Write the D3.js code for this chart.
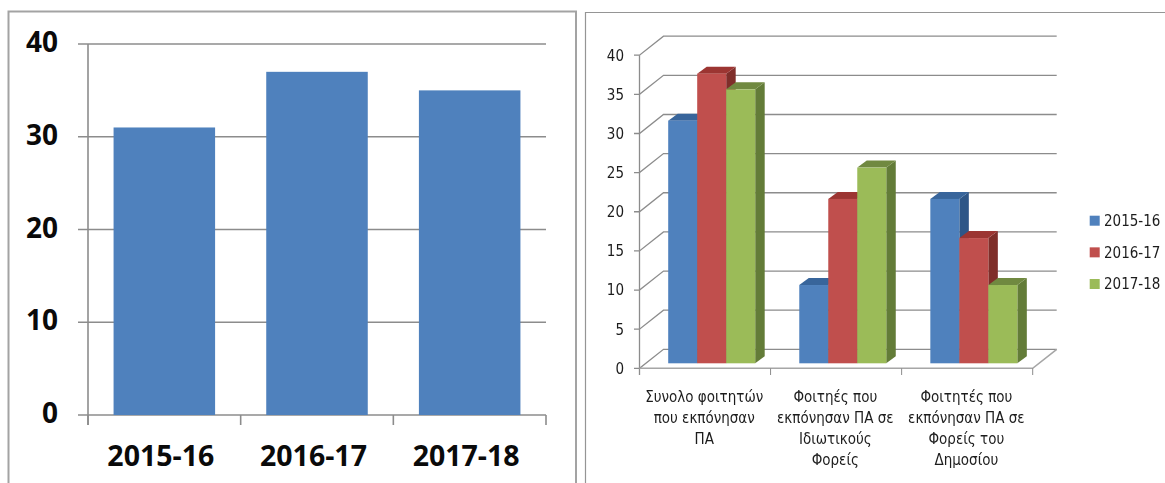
<!DOCTYPE html>
<html><head><meta charset="utf-8">
<script src="https://cdnjs.cloudflare.com/ajax/libs/d3/7.8.5/d3.min.js"></script>
<style>html,body{margin:0;padding:0;background:#fff;overflow:hidden}svg{display:block}
.cond{font-family:'DejaVu Sans Condensed','DejaVu Sans',sans-serif;font-stretch:condensed;font-size:15px;fill:#1c1c1c}</style>
</head><body>
<svg id="c" width="1165" height="483"></svg>
<script>
const years = ["2015-16", "2016-17", "2017-18"];
const leftValues = [31, 37, 35];
const leftTicks = [0, 10, 20, 30, 40];
const categories = ["total", "private", "public"];
const categoryLabels = [
  ["Συνολο φοιτητών", "που εκπόνησαν", "ΠΑ"],
  ["Φοιτηές που", "εκπόνησαν ΠΑ σε", "Ιδιωτικούς", "Φορείς"],
  ["Φοιτητές που", "εκπόνησαν ΠΑ σε", "Φορείς του", "Δημοσίου"]
];
const values2015 = [31, 10, 21];
const values2016 = [37, 21, 16];
const values2017 = [35, 25, 10];
const rightTicks = [0, 5, 10, 15, 20, 25, 30, 35, 40];
const frontColors = ["#4f81bd", "#c0504d", "#9bbb59"];
const topColors = ["#37659b", "#9c3633", "#70893f"];
const sideColors = ["#2f5687", "#7f2d2b", "#647c39"];
const gridColor = "#8c8c8c";

const svg = d3.select("#c");
const defs = svg.append("defs");
defs.append("filter").attr("id", "soft").attr("x", "-5%").attr("y", "-5%").attr("width", "110%").attr("height", "110%")
  .append("feGaussianBlur").attr("stdDeviation", 0.35);

// frames
svg.append("path").attr("d", "M8.5,483V11.5H576V483").attr("fill", "none").attr("stroke", "#a3a3a3").attr("stroke-width", 2);
svg.append("path").attr("d", "M585.5,483V12.5H1165").attr("fill", "none").attr("stroke", "#959595").attr("stroke-width", 1.2);

// left chart
const lx = d3.scaleBand().domain(years).range([88, 546]).paddingInner(0.335).paddingOuter(0.1675);
const lxTicks = d3.scaleLinear().domain([0, 3]).range([88, 546]);
const ly = d3.scaleLinear().domain([0, 40]).range([415, 44]);
const left = svg.append("g");
const lFont = "'Open Sans', sans-serif";
left.selectAll("line.g").data(leftTicks).join("line").attr("class", "g")
  .attr("x1", 78).attr("x2", 546).attr("y1", d => ly(d)).attr("y2", d => ly(d))
  .attr("stroke", gridColor).attr("stroke-width", 1.6);
left.append("line").attr("x1", 88).attr("x2", 88).attr("y1", ly(40)).attr("y2", 425).attr("stroke", gridColor).attr("stroke-width", 1.6);
left.selectAll("line.t").data(d3.range(0, 4)).join("line").attr("class", "t")
  .attr("x1", d => lxTicks(d)).attr("x2", d => lxTicks(d)).attr("y1", 415).attr("y2", 425)
  .attr("stroke", gridColor).attr("stroke-width", 1.6);
left.selectAll("rect").data(leftValues).join("rect")
  .attr("x", (d, i) => lx(years[i])).attr("width", lx.bandwidth())
  .attr("y", d => ly(d)).attr("height", d => ly(0) - ly(d))
  .attr("fill", frontColors[0]);
left.selectAll("text.y").data(leftTicks).join("text").attr("class", "y")
  .attr("x", 58).attr("y", d => ly(d) - 2).attr("dy", "0.36em").attr("text-anchor", "end")
  .attr("font-family", lFont).attr("font-weight", 700).attr("font-size", 28).attr("fill", "#0a0a0a").text(d => d);
left.selectAll("text.x").data(years).join("text").attr("class", "x")
  .attr("x", d => lx(d) + lx.bandwidth() / 2 - 3.5).attr("y", 456).attr("dy", "0.36em").attr("text-anchor", "middle")
  .attr("font-family", lFont).attr("font-weight", 700).attr("font-size", 28.5).attr("fill", "#0a0a0a").text(d => d);

// right chart (pseudo-3D)
const right = svg.append("g").attr("filter", "url(#soft)");
const wallDx = 24, wallDy = -19, depthDx = 9.5, depthDy = -7, baseLift = 5;
const rx0 = d3.scaleBand().domain(categories).range([639.5, 1032.7]);
const rx1 = d3.scaleBand().domain(years).range([28.7, 115.7]);
const ry = d3.scaleLinear().domain([0, 40]).range([368.3, 55.2]);
const h = ry(0) - ry(1);

// walls
right.selectAll("path.wall").data(rightTicks).join("path").attr("class", "wall")
  .attr("d", d => {
    const y = ry(d);
    return `M634,${y}H639.5L${639.5 + wallDx},${y + wallDy}H${1032.7 + wallDx}`;
  })
  .attr("fill", "none").attr("stroke", gridColor).attr("stroke-width", 1.3);
right.append("line").attr("x1", 639.5).attr("x2", 639.5).attr("y1", ry(40)).attr("y2", 375).attr("stroke", gridColor).attr("stroke-width", 1.3);
right.append("path").attr("d", `M639.5,${ry(0)}H1032.7L${1032.7 + wallDx},${ry(0) + wallDy}`)
  .attr("fill", "none").attr("stroke", "#a6a6a6").attr("stroke-width", 1.6);
right.selectAll("line.t").data(d3.range(1, 4)).join("line").attr("class", "t")
  .attr("x1", d => 639.5 + d * rx0.bandwidth()).attr("x2", d => 639.5 + d * rx0.bandwidth())
  .attr("y1", ry(0)).attr("y2", 375).attr("stroke", gridColor).attr("stroke-width", 1);

// bars
const rows = categories.flatMap((c, i) => [values2015[i], values2016[i], values2017[i]].map((v, s) => ({c, s, v})));
const bars = right.selectAll("g.b").data(rows).join("g").attr("class", "b");
const base = ry(0) - baseLift;
const bx = d => rx0(d.c) + rx1(years[d.s]);
const w = rx1.bandwidth();
bars.append("path").attr("fill", d => sideColors[d.s]).attr("d", d => {
  const x = bx(d) + w, t = base - d.v * h;
  return `M${x},${t}L${x + depthDx},${t + depthDy}V${base + depthDy}L${x},${base}Z`;
});
bars.append("path").attr("fill", d => topColors[d.s]).attr("d", d => {
  const x = bx(d), t = base - d.v * h;
  return `M${x},${t}L${x + depthDx},${t + depthDy}H${x + w + depthDx}L${x + w},${t}Z`;
});
bars.append("rect").attr("fill", d => frontColors[d.s])
  .attr("x", bx).attr("width", w).attr("y", d => base - d.v * h).attr("height", d => d.v * h);

// labels
right.selectAll("text.y").data(rightTicks).join("text").attr("class", "y cond")
  .attr("x", 624).attr("y", d => ry(d)).attr("dy", "0.36em").attr("text-anchor", "end").text(d => d);
const catG = right.selectAll("g.cat").data(categories).join("g").attr("class", "cat");
catG.each(function(c, i) {
  d3.select(this).selectAll("text").data(categoryLabels[i]).join("text").attr("class", "cond")
    .attr("x", rx0(c) + rx0.bandwidth() / 2 - 0.8).attr("y", (d, j) => 397 + j * 21).attr("dy", "0.36em")
    .attr("text-anchor", "middle").text(d => d);
});
const legendY = d3.scalePoint().domain(years).range([220.7, 284]);
right.selectAll("rect.l").data(years).join("rect").attr("class", "l")
  .attr("x", 1089.7).attr("width", 10).attr("y", d => legendY(d) - 5).attr("height", 10)
  .attr("fill", (d, i) => frontColors[i]);
right.selectAll("text.l").data(years).join("text").attr("class", "l cond")
  .attr("x", 1104).attr("y", d => legendY(d)).attr("dy", "0.36em").text(d => d);
</script>
</body></html>
